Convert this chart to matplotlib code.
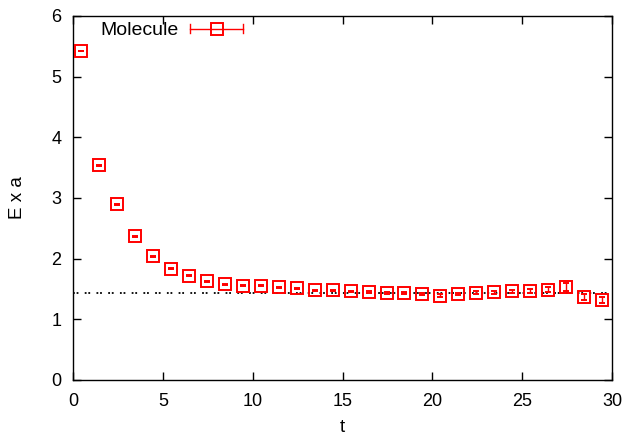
import matplotlib
matplotlib.use("Agg")
import matplotlib.pyplot as plt
from matplotlib.legend_handler import HandlerBase
from matplotlib.lines import Line2D

plt.rcParams['font.family'] = ['Liberation Sans', 'DejaVu Sans']

t = [0.45 + i for i in range(30)]
energy = [5.42, 3.54, 2.90, 2.37, 2.04, 1.83, 1.72, 1.63, 1.58, 1.55,
          1.55, 1.53, 1.51, 1.48, 1.48, 1.46, 1.45, 1.43, 1.43, 1.42,
          1.39, 1.42, 1.44, 1.45, 1.46, 1.47, 1.49, 1.53, 1.37, 1.32]
errors = [0.005, 0.008, 0.008, 0.008, 0.008, 0.008, 0.008, 0.008, 0.008, 0.008,
          0.008, 0.008, 0.01, 0.01, 0.01, 0.012, 0.015, 0.015, 0.015, 0.02,
          0.02, 0.02, 0.025, 0.025, 0.03, 0.035, 0.045, 0.066, 0.045, 0.05]
plateau = 1.435
series_label = "Molecule"
xticks = [0, 5, 10, 15, 20, 25, 30]
yticks = [0, 1, 2, 3, 4, 5, 6]

RED = '#ff0000'
MS = 8.5
MEW = 1.4

fig = plt.figure(figsize=(6.27, 4.37), dpi=100)
ax = fig.add_axes([73/627, 57/437, 539/627, 364/437])

ax.plot([0, 30], [plateau, plateau], color='black', lw=1.3,
        linestyle=(0, (1, 1.0, 1, 3.5)), zorder=1)

eb = ax.errorbar(t, energy, yerr=errors, fmt='s', mfc='none', mec=RED,
                 ms=MS, mew=MEW, ecolor=RED, elinewidth=1.0, capsize=2.0,
                 capthick=1.0, zorder=3, label=series_label)


class HBarHandler(HandlerBase):
    def create_artists(self, legend, orig_handle, xdescent, ydescent,
                       width, height, fontsize, trans):
        y = height / 2 - ydescent
        x0 = -xdescent
        x1 = width - xdescent
        c = 3.0
        arts = [
            Line2D([x0, x1], [y, y], color=RED, lw=1.0),
            Line2D([x0, x0], [y - c, y + c], color=RED, lw=1.0),
            Line2D([x1, x1], [y - c, y + c], color=RED, lw=1.0),
            Line2D([(x0 + x1) / 2], [y], marker='s', mfc='none', mec=RED,
                   ms=MS, mew=MEW, lw=0),
        ]
        for a in arts:
            a.set_transform(trans)
        return arts


leg = ax.legend([eb], [series_label], handler_map={type(eb): HBarHandler()},
                loc='upper left', bbox_to_anchor=(0.05, 0.984), frameon=False,
                markerfirst=False, handlelength=2.73, handletextpad=0.62,
                fontsize=14, borderaxespad=0.0, borderpad=0.0)

ax.set_xlim(0, 30)
ax.set_ylim(0, 6)
ax.set_xticks(xticks)
ax.set_yticks(yticks)
ax.tick_params(direction='in', length=6, width=1, top=True, right=True,
               labelsize=13, colors='black')
ax.tick_params(axis='x', pad=9)
ax.tick_params(axis='y', pad=8.5)
for s in ax.spines.values():
    s.set_linewidth(1.0)
ax.set_xlabel('t', fontsize=13.5, labelpad=7)
ax.set_ylabel('E x a', fontsize=13.5, labelpad=18)

fig.savefig('out.png', dpi=100)
